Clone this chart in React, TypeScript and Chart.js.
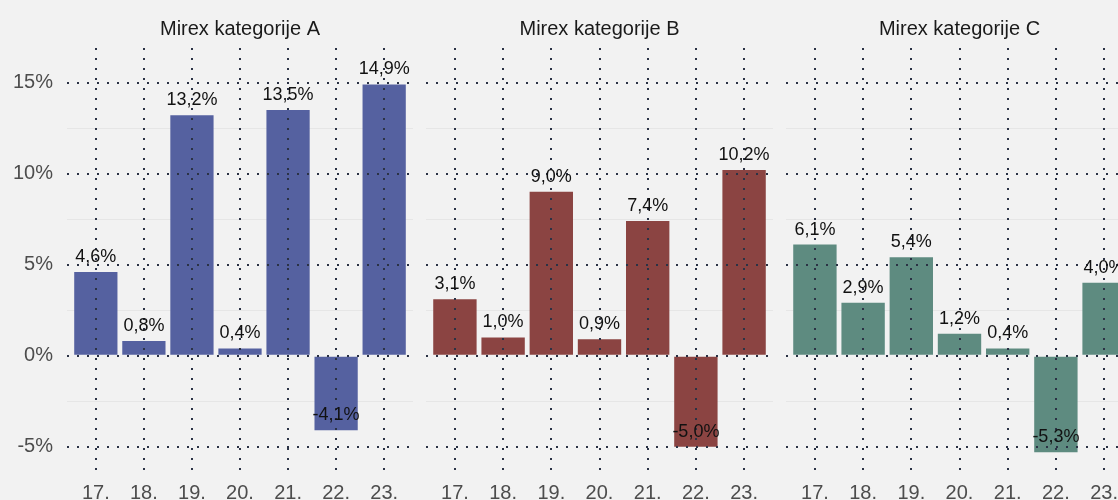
import React, { useEffect, useRef } from 'react';
import { Chart, registerables } from 'chart.js';

Chart.register(...registerables);

const years = ['17.', '18.', '19.', '20.', '21.', '22.', '23.'];
const panelTitles = ['Mirex kategorije A', 'Mirex kategorije B', 'Mirex kategorije C'];
const valuesA = [4.6, 0.8, 13.2, 0.4, 13.5, -4.1, 14.9];
const valuesB = [3.1, 1.0, 9.0, 0.9, 7.4, -5.0, 10.2];
const valuesC = [6.1, 2.9, 5.4, 1.2, 0.4, -5.3, 4.0];
const majorTicks = [-5, 0, 5, 10, 15];
const minorTicks = [-2.5, 2.5, 7.5, 12.5];
const barColors = ['#5561a0', '#8b4442', '#5e8b80'];

const FONT = "'Liberation Sans', Arial, sans-serif";
const BG = '#f2f2f2';
const DOT = '#2b3245';
const fmt = (v: number) => v.toFixed(1).replace('.', ',') + '%';

type PanelProps = {
  title: string;
  values: number[];
  color: string;
  left: number;
  width: number;
  showY: boolean;
};

function Panel({ title, values, color, left, width, showY }: PanelProps) {
  const ref = useRef<HTMLCanvasElement>(null);
  useEffect(() => {
    if (!ref.current) return;
    const minorPlugin = {
      id: 'minorGrid',
      beforeDatasetsDraw(chart: any) {
        const { ctx, chartArea, scales } = chart;
        ctx.save();
        ctx.strokeStyle = '#e6e6e6';
        ctx.lineWidth = 1;
        minorTicks.forEach((v) => {
          const y = Math.round(scales.y.getPixelForValue(v)) + 0.5;
          ctx.beginPath();
          ctx.moveTo(chartArea.left, y);
          ctx.lineTo(chartArea.right, y);
          ctx.stroke();
        });
        ctx.restore();
      },
    };
    const labelPlugin = {
      id: 'labels',
      afterDraw(chart: any) {
        const { ctx, chartArea } = chart;
        ctx.save();
        ctx.fillStyle = '#1a1a1a';
        ctx.textAlign = 'center';
        ctx.textBaseline = 'middle';
        ctx.font = `20px ${FONT}`;
        ctx.fillText(title, (chartArea.left + chartArea.right) / 2, 29);
        ctx.fillStyle = '#111111';
        ctx.font = `18px ${FONT}`;
        const meta = chart.getDatasetMeta(0);
        meta.data.forEach((bar: any, i: number) => {
          ctx.fillText(fmt(values[i]), bar.x, bar.y - 15);
        });
        ctx.restore();
      },
    };
    const chart = new Chart(ref.current, {
      type: 'bar',
      data: {
        datasets: [
          {
            data: values.map((v, i) => ({ x: i + 1, y: v })),
            backgroundColor: color,
            borderWidth: 0,
            barPercentage: 0.9,
            categoryPercentage: 1,
          },
        ],
      },
      options: {
        animation: false,
        responsive: false,
        maintainAspectRatio: false,
        layout: { padding: { top: 48, left: 0, right: 0, bottom: 0 } },
        plugins: {
          legend: { display: false },
          tooltip: { enabled: false },
          title: { display: false },
        },
        scales: {
          x: {
            type: 'linear',
            min: 0.4,
            max: 7.6,
            offset: false,
            afterBuildTicks: (s: any) => {
              s.ticks = years.map((_, i) => ({ value: i + 1 }));
            },
            afterFit: (s: any) => {
              s.height = 28;
            },
            ticks: {
              callback: (v: any) => years[Math.round(Number(v)) - 1] ?? '',
              font: { family: FONT, size: 20 },
              color: '#4d4d4d',
              padding: 9,
              maxRotation: 0,
              autoSkip: false,
            },
            grid: { color: DOT, lineWidth: 2, drawTicks: false, offset: false, z: 1 },
            border: { display: false, dash: [2, 8] },
          },
          y: {
            type: 'linear',
            min: -6.39,
            max: 16.9,
            afterBuildTicks: (s: any) => {
              s.ticks = majorTicks.map((v) => ({ value: v }));
            },
            afterFit: (s: any) => {
              s.width = showY ? 67 : 0;
            },
            ticks: {
              display: showY,
              callback: (v: any) => `${v}%`,
              font: { family: FONT, size: 20 },
              color: '#4d4d4d',
              padding: 14,
            },
            grid: { color: DOT, lineWidth: 2, drawTicks: false, z: 1 },
            border: { display: false, dash: [2, 8] },
          },
        },
      } as any,
      plugins: [minorPlugin, labelPlugin],
    });
    return () => chart.destroy();
  }, []);
  return (
    <canvas
      ref={ref}
      width={width}
      height={500}
      style={{ position: 'absolute', left, top: 0, width, height: 500, display: 'block' }}
    />
  );
}

export default function App() {
  return (
    <div
      style={{
        position: 'fixed',
        left: 0,
        top: 0,
        width: 1118,
        height: 500,
        overflow: 'hidden',
        background: BG,
      }}
    >
      <Panel title={panelTitles[0]} values={valuesA} color={barColors[0]} left={0} width={413} showY={true} />
      <Panel title={panelTitles[1]} values={valuesB} color={barColors[1]} left={426} width={347} showY={false} />
      <Panel title={panelTitles[2]} values={valuesC} color={barColors[2]} left={786} width={347} showY={false} />
    </div>
  );
}
